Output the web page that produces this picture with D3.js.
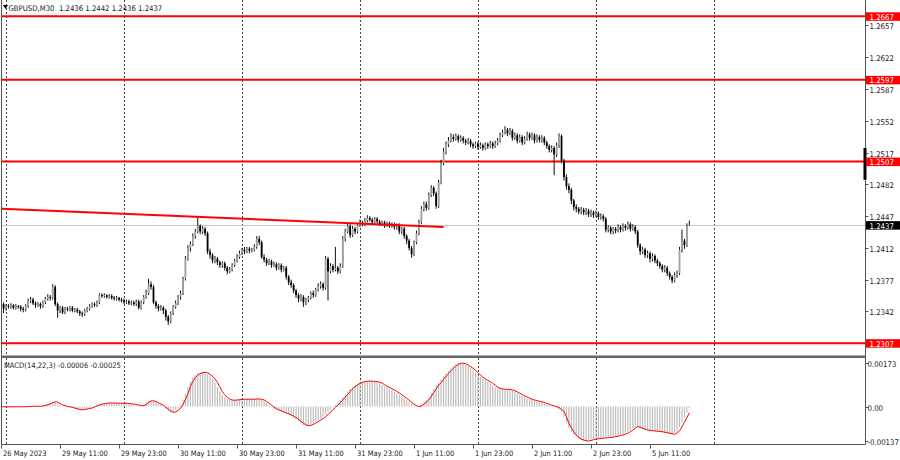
<!DOCTYPE html>
<html><head><meta charset="utf-8">
<script src="https://cdn.jsdelivr.net/npm/d3@7/dist/d3.min.js"></script>
<style>
body{margin:0;background:#fff}
svg{display:block}
text{font-family:"DejaVu Sans Condensed","DejaVu Sans",sans-serif;font-stretch:condensed;white-space:pre}
</style>
</head><body>
<svg id="chart" width="900" height="460"></svg>
<script>
// ---------------- DATA ----------------
const symbolTitle = "GBPUSD,M30";
const lastOHLC = ["1.2436", "1.2442", "1.2436", "1.2437"];
const macdTitle = "MACD(14,22,3) -0.00006 -0.00025";

const open = [1.2352,
1.2350,1.2345,1.2348,1.2347,1.2349,1.2346,1.2348,1.2347,1.2345,1.2344,
1.2348,1.2353,1.2355,1.2351,1.2349,1.2350,1.2348,1.2352,1.2356,1.2358,
1.2357,1.2369,1.2350,1.2343,1.2346,1.2341,1.2345,1.2344,1.2346,1.2343,
1.2344,1.2342,1.2340,1.2339,1.2343,1.2345,1.2348,1.2350,1.2349,1.2352,
1.2360,1.2359,1.2360,1.2358,1.2359,1.2357,1.2356,1.2357,1.2355,1.2354,
1.2352,1.2353,1.2351,1.2352,1.2350,1.2353,1.2346,1.2352,1.2358,1.2362,
1.2372,1.2369,1.2352,1.2348,1.2345,1.2346,1.2343,1.2336,1.2331,1.2340,
1.2347,1.2351,1.2358,1.2362,1.2378,1.2400,1.2412,1.2416,1.2425,1.2430,
1.2436,1.2430,1.2433,1.2428,1.2408,1.2404,1.2398,1.2400,1.2396,1.2393,
1.2395,1.2390,1.2386,1.2388,1.2393,1.2398,1.2402,1.2406,1.2410,1.2408,
1.2411,1.2409,1.2410,1.2413,1.2422,1.2418,1.2402,1.2399,1.2395,1.2397,
1.2393,1.2394,1.2390,1.2393,1.2388,1.2390,1.2380,1.2374,1.2371,1.2365,
1.2360,1.2356,1.2358,1.2352,1.2355,1.2357,1.2362,1.2360,1.2366,1.2370,
1.2372,1.2368,1.2400,1.2386,1.2392,1.2388,1.2390,1.2386,1.2392,1.2422,
1.2430,1.2436,1.2426,1.2433,1.2430,1.2437,1.2440,1.2438,1.2442,1.2445,
1.2443,1.2440,1.2444,1.2441,1.2438,1.2440,1.2437,1.2439,1.2436,1.2438,
1.2435,1.2437,1.2430,1.2433,1.2425,1.2420,1.2412,1.2405,1.2418,1.2428,
1.2440,1.2455,1.2460,1.2456,1.2470,1.2478,1.2472,1.2458,1.2484,1.2505,
1.2518,1.2526,1.2530,1.2534,1.2532,1.2535,1.2531,1.2533,1.2530,1.2528,
1.2530,1.2526,1.2524,1.2527,1.2523,1.2525,1.2522,1.2526,1.2524,1.2527,
1.2524,1.2527,1.2530,1.2536,1.2539,1.2542,1.2538,1.2541,1.2533,1.2536,
1.2530,1.2534,1.2528,1.2532,1.2537,1.2533,1.2536,1.2530,1.2534,1.2531,
1.2533,1.2528,1.2524,1.2520,1.2522,1.2515,1.2525,1.2535,1.2508,1.2490,
1.2480,1.2476,1.2464,1.2457,1.2455,1.2452,1.2454,1.2451,1.2453,1.2449,
1.2451,1.2448,1.2450,1.2446,1.2447,1.2444,1.2432,1.2434,1.2430,1.2433,
1.2431,1.2435,1.2432,1.2436,1.2434,1.2438,1.2433,1.2435,1.2430,1.2415,
1.2408,1.2410,1.2404,1.2406,1.2400,1.2403,1.2398,1.2395,1.2392,1.2388,
1.2390,1.2384,1.2380,1.2376,1.2382,1.2384,1.2410,1.2420,1.2415,1.2436];

const close = [
1.2350,1.2345,1.2348,1.2347,1.2349,1.2346,1.2348,1.2347,1.2345,1.2344,
1.2348,1.2353,1.2355,1.2351,1.2349,1.2350,1.2348,1.2352,1.2356,1.2358,
1.2357,1.2369,1.2350,1.2343,1.2346,1.2341,1.2345,1.2344,1.2346,1.2343,
1.2344,1.2342,1.2340,1.2339,1.2343,1.2345,1.2348,1.2350,1.2349,1.2352,
1.2360,1.2359,1.2360,1.2358,1.2359,1.2357,1.2356,1.2357,1.2355,1.2354,
1.2352,1.2353,1.2351,1.2352,1.2350,1.2353,1.2346,1.2352,1.2358,1.2362,
1.2372,1.2369,1.2352,1.2348,1.2345,1.2346,1.2343,1.2336,1.2331,1.2340,
1.2347,1.2351,1.2358,1.2362,1.2378,1.2400,1.2412,1.2416,1.2425,1.2430,
1.2436,1.2430,1.2433,1.2428,1.2408,1.2404,1.2398,1.2400,1.2396,1.2393,
1.2395,1.2390,1.2386,1.2388,1.2393,1.2398,1.2402,1.2406,1.2410,1.2408,
1.2411,1.2409,1.2410,1.2413,1.2422,1.2418,1.2402,1.2399,1.2395,1.2397,
1.2393,1.2394,1.2390,1.2393,1.2388,1.2390,1.2380,1.2374,1.2371,1.2365,
1.2360,1.2356,1.2358,1.2352,1.2355,1.2357,1.2362,1.2360,1.2366,1.2370,
1.2372,1.2368,1.2400,1.2386,1.2392,1.2388,1.2390,1.2386,1.2392,1.2422,
1.2430,1.2436,1.2426,1.2433,1.2430,1.2437,1.2440,1.2438,1.2442,1.2445,
1.2443,1.2440,1.2444,1.2441,1.2438,1.2440,1.2437,1.2439,1.2436,1.2438,
1.2435,1.2437,1.2430,1.2433,1.2425,1.2420,1.2412,1.2405,1.2418,1.2428,
1.2440,1.2455,1.2460,1.2456,1.2470,1.2478,1.2472,1.2458,1.2484,1.2505,
1.2518,1.2526,1.2530,1.2534,1.2532,1.2535,1.2531,1.2533,1.2530,1.2528,
1.2530,1.2526,1.2524,1.2527,1.2523,1.2525,1.2522,1.2526,1.2524,1.2527,
1.2524,1.2527,1.2530,1.2536,1.2539,1.2542,1.2538,1.2541,1.2533,1.2536,
1.2530,1.2534,1.2528,1.2532,1.2537,1.2533,1.2536,1.2530,1.2534,1.2531,
1.2533,1.2528,1.2524,1.2520,1.2522,1.2515,1.2525,1.2535,1.2508,1.2490,
1.2480,1.2476,1.2464,1.2457,1.2455,1.2452,1.2454,1.2451,1.2453,1.2449,
1.2451,1.2448,1.2450,1.2446,1.2447,1.2444,1.2432,1.2434,1.2430,1.2433,
1.2431,1.2435,1.2432,1.2436,1.2434,1.2438,1.2433,1.2435,1.2430,1.2415,
1.2408,1.2410,1.2404,1.2406,1.2400,1.2403,1.2398,1.2395,1.2392,1.2388,
1.2390,1.2384,1.2380,1.2376,1.2382,1.2384,1.2410,1.2420,1.2415,1.2436,
1.2437];

const high = [
1.2354,1.2352,1.2350,1.2350,1.2351,1.2350,1.2350,1.2349,1.2349,1.2347,
1.2350,1.2356,1.2358,1.2357,1.2353,1.2352,1.2352,1.2354,1.2358,1.2361,
1.2360,1.2372,1.2371,1.2352,1.2348,1.2348,1.2347,1.2347,1.2348,1.2348,
1.2346,1.2346,1.2344,1.2342,1.2345,1.2347,1.2350,1.2352,1.2352,1.2354,
1.2362,1.2362,1.2362,1.2361,1.2361,1.2361,1.2359,1.2359,1.2358,1.2357,
1.2356,1.2355,1.2355,1.2354,1.2354,1.2355,1.2355,1.2354,1.2360,1.2366,
1.2378,1.2375,1.2371,1.2354,1.2350,1.2349,1.2348,1.2345,1.2338,1.2342,
1.2349,1.2354,1.2360,1.2365,1.2380,1.2403,1.2415,1.2419,1.2428,1.2433,
1.2446,1.2438,1.2436,1.2435,1.2430,1.2411,1.2406,1.2403,1.2402,1.2398,
1.2397,1.2397,1.2392,1.2391,1.2395,1.2400,1.2405,1.2409,1.2412,1.2413,
1.2413,1.2413,1.2412,1.2416,1.2425,1.2425,1.2420,1.2405,1.2401,1.2400,
1.2399,1.2397,1.2396,1.2395,1.2395,1.2392,1.2392,1.2382,1.2377,1.2373,
1.2367,1.2362,1.2361,1.2360,1.2357,1.2359,1.2364,1.2365,1.2368,1.2373,
1.2375,1.2374,1.2403,1.2402,1.2395,1.2394,1.2413,1.2392,1.2395,1.2425,
1.2433,1.2439,1.2438,1.2436,1.2435,1.2439,1.2443,1.2442,1.2445,1.2448,
1.2447,1.2445,1.2446,1.2446,1.2443,1.2442,1.2442,1.2441,1.2441,1.2440,
1.2440,1.2439,1.2439,1.2435,1.2435,1.2427,1.2422,1.2414,1.2420,1.2431,
1.2443,1.2458,1.2463,1.2463,1.2473,1.2481,1.2480,1.2474,1.2487,1.2509,
1.2522,1.2529,1.2534,1.2538,1.2537,1.2538,1.2537,1.2536,1.2535,1.2532,
1.2533,1.2532,1.2528,1.2529,1.2529,1.2528,1.2527,1.2528,1.2528,1.2530,
1.2529,1.2530,1.2533,1.2539,1.2542,1.2546,1.2544,1.2544,1.2543,1.2539,
1.2538,1.2537,1.2536,1.2535,1.2540,1.2539,1.2539,1.2538,1.2537,1.2536,
1.2536,1.2535,1.2530,1.2526,1.2525,1.2524,1.2528,1.2538,1.2537,1.2510,
1.2493,1.2483,1.2478,1.2466,1.2460,1.2457,1.2457,1.2456,1.2456,1.2455,
1.2454,1.2453,1.2453,1.2452,1.2450,1.2449,1.2446,1.2437,1.2436,1.2435,
1.2435,1.2438,1.2437,1.2439,1.2438,1.2441,1.2440,1.2438,1.2437,1.2432,
1.2417,1.2413,1.2412,1.2409,1.2408,1.2406,1.2405,1.2400,1.2397,1.2394,
1.2393,1.2392,1.2386,1.2382,1.2385,1.2387,1.2413,1.2432,1.2422,1.2439,
1.2442];

const low = [
1.2347,1.2340,1.2343,1.2345,1.2345,1.2344,1.2344,1.2345,1.2342,1.2341,
1.2342,1.2346,1.2351,1.2349,1.2346,1.2347,1.2345,1.2346,1.2350,1.2354,
1.2354,1.2355,1.2348,1.2335,1.2340,1.2339,1.2339,1.2342,1.2342,1.2341,
1.2341,1.2340,1.2337,1.2336,1.2337,1.2341,1.2343,1.2346,1.2347,1.2347,
1.2350,1.2357,1.2357,1.2356,1.2356,1.2355,1.2354,1.2354,1.2353,1.2352,
1.2350,1.2350,1.2349,1.2349,1.2348,1.2348,1.2344,1.2344,1.2350,1.2356,
1.2360,1.2366,1.2350,1.2345,1.2342,1.2343,1.2339,1.2332,1.2327,1.2329,
1.2338,1.2345,1.2349,1.2355,1.2360,1.2376,1.2398,1.2408,1.2414,1.2422,
1.2428,1.2427,1.2427,1.2425,1.2405,1.2400,1.2395,1.2395,1.2393,1.2390,
1.2390,1.2387,1.2383,1.2384,1.2386,1.2391,1.2396,1.2400,1.2404,1.2405,
1.2406,1.2406,1.2407,1.2408,1.2411,1.2415,1.2400,1.2396,1.2392,1.2393,
1.2390,1.2391,1.2387,1.2388,1.2385,1.2386,1.2377,1.2371,1.2368,1.2362,
1.2357,1.2352,1.2353,1.2347,1.2349,1.2352,1.2355,1.2357,1.2358,1.2364,
1.2367,1.2365,1.2366,1.2354,1.2384,1.2385,1.2386,1.2383,1.2384,1.2390,
1.2419,1.2428,1.2423,1.2424,1.2427,1.2428,1.2435,1.2436,1.2436,1.2440,
1.2441,1.2438,1.2438,1.2439,1.2436,1.2436,1.2434,1.2435,1.2434,1.2434,
1.2432,1.2432,1.2427,1.2427,1.2422,1.2416,1.2409,1.2401,1.2403,1.2416,
1.2426,1.2438,1.2452,1.2453,1.2454,1.2468,1.2469,1.2455,1.2456,1.2482,
1.2503,1.2515,1.2523,1.2528,1.2529,1.2530,1.2528,1.2529,1.2527,1.2525,
1.2526,1.2523,1.2521,1.2522,1.2520,1.2521,1.2519,1.2520,1.2521,1.2522,
1.2521,1.2522,1.2525,1.2528,1.2534,1.2537,1.2535,1.2536,1.2530,1.2531,
1.2527,1.2528,1.2525,1.2526,1.2530,1.2530,1.2531,1.2527,1.2528,1.2528,
1.2528,1.2525,1.2521,1.2517,1.2517,1.2492,1.2512,1.2522,1.2505,1.2486,
1.2476,1.2472,1.2460,1.2453,1.2451,1.2449,1.2449,1.2448,1.2448,1.2446,
1.2446,1.2445,1.2446,1.2443,1.2443,1.2441,1.2429,1.2429,1.2427,1.2427,
1.2428,1.2429,1.2429,1.2430,1.2431,1.2432,1.2430,1.2431,1.2427,1.2412,
1.2404,1.2405,1.2401,1.2401,1.2396,1.2397,1.2395,1.2392,1.2389,1.2385,
1.2385,1.2381,1.2377,1.2373,1.2374,1.2379,1.2382,1.2407,1.2411,1.2413,
1.2436];

const macdMain = [
-0.00001,-0.00001,-0.00001,-0.00001,-0.00001,-0.00001,-0.00001,-0.00001,-0.00001,-0.00001,
0.00000,0.00000,0.00001,0.00001,0.00001,0.00001,0.00002,0.00004,0.00007,0.00011,
0.00015,0.00019,0.00017,0.00012,0.00007,0.00003,0.00000,-0.00001,-0.00003,-0.00006,
-0.00009,-0.00012,-0.00013,-0.00012,-0.00010,-0.00008,-0.00006,-0.00002,0.00002,0.00006,
0.00009,0.00011,0.00013,0.00014,0.00014,0.00014,0.00014,0.00013,0.00013,0.00013,
0.00013,0.00012,0.00011,0.00010,0.00008,0.00006,0.00004,0.00003,0.00008,0.00016,
0.00022,0.00023,0.00020,0.00015,0.00010,0.00006,-0.00002,-0.00010,-0.00018,-0.00023,
-0.00022,-0.00015,-0.00007,0.00008,0.00028,0.00050,0.00079,0.00100,0.00115,0.00125,
0.00131,0.00135,0.00136,0.00134,0.00128,0.00120,0.00110,0.00096,0.00078,0.00059,
0.00047,0.00037,0.00030,0.00026,0.00025,0.00026,0.00027,0.00028,0.00029,0.00029,
0.00029,0.00029,0.00029,0.00030,0.00030,0.00029,0.00026,0.00020,0.00013,0.00006,
-0.00002,-0.00009,-0.00013,-0.00017,-0.00021,-0.00025,-0.00029,-0.00033,-0.00038,-0.00044,
-0.00051,-0.00058,-0.00066,-0.00073,-0.00076,-0.00075,-0.00071,-0.00066,-0.00060,-0.00054,
-0.00048,-0.00040,-0.00032,-0.00022,-0.00013,-0.00004,0.00006,0.00015,0.00026,0.00037,
0.00048,0.00059,0.00070,0.00079,0.00086,0.00092,0.00096,0.00099,0.00101,0.00101,
0.00101,0.00100,0.00099,0.00097,0.00093,0.00087,0.00081,0.00076,0.00071,0.00066,
0.00060,0.00054,0.00047,0.00040,0.00033,0.00025,0.00017,0.00009,0.00003,0.00000,
0.00002,0.00009,0.00017,0.00026,0.00040,0.00055,0.00070,0.00085,0.00095,0.00108,
0.00120,0.00131,0.00142,0.00152,0.00161,0.00168,0.00172,0.00172,0.00170,0.00165,
0.00159,0.00152,0.00144,0.00135,0.00125,0.00117,0.00110,0.00104,0.00099,0.00092,
0.00085,0.00078,0.00072,0.00070,0.00069,0.00068,0.00068,0.00066,0.00063,0.00058,
0.00053,0.00048,0.00043,0.00038,0.00033,0.00029,0.00026,0.00024,0.00021,0.00019,
0.00016,0.00013,0.00009,0.00005,0.00002,0.00000,-0.00004,-0.00012,-0.00020,-0.00040,
-0.00067,-0.00085,-0.00100,-0.00113,-0.00122,-0.00129,-0.00133,-0.00136,-0.00137,-0.00135,
-0.00132,-0.00130,-0.00128,-0.00127,-0.00126,-0.00125,-0.00124,-0.00123,-0.00122,-0.00120,
-0.00118,-0.00115,-0.00113,-0.00110,-0.00106,-0.00100,-0.00093,-0.00086,-0.00080,-0.00082,
-0.00086,-0.00090,-0.00093,-0.00095,-0.00096,-0.00097,-0.00098,-0.00099,-0.00100,-0.00102,
-0.00104,-0.00106,-0.00108,-0.00110,-0.00106,-0.00100,-0.00080,-0.00062,-0.00044,-0.00025,
-0.00006];

const macdSignal = [
-0.00001,-0.00001,-0.00001,-0.00001,-0.00001,-0.00001,-0.00001,-0.00001,-0.00001,-0.00001,
-0.00001,0.00000,0.00000,0.00001,0.00001,0.00001,0.00001,0.00002,0.00004,0.00007,
0.00011,0.00015,0.00019,0.00017,0.00012,0.00007,0.00003,0.00000,-0.00001,-0.00003,
-0.00006,-0.00009,-0.00012,-0.00013,-0.00012,-0.00010,-0.00008,-0.00006,-0.00002,0.00002,
0.00006,0.00009,0.00011,0.00013,0.00014,0.00014,0.00014,0.00014,0.00013,0.00013,
0.00013,0.00013,0.00012,0.00011,0.00010,0.00008,0.00006,0.00004,0.00003,0.00008,
0.00016,0.00022,0.00023,0.00020,0.00015,0.00010,0.00006,-0.00002,-0.00010,-0.00018,
-0.00023,-0.00022,-0.00015,-0.00007,0.00008,0.00028,0.00050,0.00079,0.00100,0.00115,
0.00125,0.00131,0.00135,0.00136,0.00134,0.00128,0.00120,0.00110,0.00096,0.00078,
0.00059,0.00047,0.00037,0.00030,0.00026,0.00025,0.00026,0.00027,0.00028,0.00029,
0.00029,0.00029,0.00029,0.00029,0.00030,0.00030,0.00029,0.00026,0.00020,0.00013,
0.00006,-0.00002,-0.00009,-0.00013,-0.00017,-0.00021,-0.00025,-0.00029,-0.00033,-0.00038,
-0.00044,-0.00051,-0.00058,-0.00066,-0.00073,-0.00076,-0.00075,-0.00071,-0.00066,-0.00060,
-0.00054,-0.00048,-0.00040,-0.00032,-0.00022,-0.00013,-0.00004,0.00006,0.00015,0.00026,
0.00037,0.00048,0.00059,0.00070,0.00079,0.00086,0.00092,0.00096,0.00099,0.00101,
0.00101,0.00101,0.00100,0.00099,0.00097,0.00093,0.00087,0.00081,0.00076,0.00071,
0.00066,0.00060,0.00054,0.00047,0.00040,0.00033,0.00025,0.00017,0.00009,0.00003,
0.00000,0.00002,0.00009,0.00017,0.00026,0.00040,0.00055,0.00070,0.00085,0.00095,
0.00108,0.00120,0.00131,0.00142,0.00152,0.00161,0.00168,0.00172,0.00172,0.00170,
0.00165,0.00159,0.00152,0.00144,0.00135,0.00125,0.00117,0.00110,0.00104,0.00099,
0.00092,0.00085,0.00078,0.00072,0.00070,0.00069,0.00068,0.00068,0.00066,0.00063,
0.00058,0.00053,0.00048,0.00043,0.00038,0.00033,0.00029,0.00026,0.00024,0.00021,
0.00019,0.00016,0.00013,0.00009,0.00005,0.00002,0.00000,-0.00004,-0.00012,-0.00020,
-0.00040,-0.00067,-0.00085,-0.00100,-0.00113,-0.00122,-0.00129,-0.00133,-0.00136,-0.00137,
-0.00135,-0.00132,-0.00130,-0.00128,-0.00127,-0.00126,-0.00125,-0.00124,-0.00123,-0.00122,
-0.00120,-0.00118,-0.00115,-0.00113,-0.00110,-0.00106,-0.00100,-0.00093,-0.00086,-0.00080,
-0.00082,-0.00086,-0.00090,-0.00093,-0.00095,-0.00096,-0.00097,-0.00098,-0.00099,-0.00100,
-0.00102,-0.00104,-0.00106,-0.00108,-0.00110,-0.00106,-0.00096,-0.00081,-0.00062,-0.00044,
-0.00025];

const levelPrices = [1.2667, 1.2597, 1.2507, 1.2307];
const bidPrice = 1.2437;
const priceTicks = [1.2657, 1.2622, 1.2587, 1.2552, 1.2517, 1.2482, 1.2447, 1.2412, 1.2377, 1.2342];
const macdTicks = [0.00173, 0.0, -0.00137];
const macdTickLabels = ["0.00173", "0.00", "-0.00137"];
const timeLabelIdx = [0, 24, 48, 72, 96, 120, 144, 168, 192, 216, 240, 264];
const timeLabels = ["26 May 2023", "29 May 11:00", "29 May 23:00", "30 May 11:00", "30 May 23:00",
  "31 May 11:00", "31 May 23:00", "1 Jun 11:00", "1 Jun 23:00", "2 Jun 11:00", "2 Jun 23:00", "5 Jun 11:00"];
const gridIdx = [2, 50, 98, 146, 194, 242, 290];
const trendIdx = [0, 180];
const trendPrice = [1.2455, 1.2435];

// ---------------- LAYOUT ----------------
const svg = d3.select("#chart");
const L = 1.5, R = 865.5;
const mainTop = 0, mainBot = 355.5, macdTop = 358, macdBot = 444.5;

const x = d3.scaleLinear().domain([0, 290]).range([1.1, 1.1 + 290 * 2.458]);
const yP = d3.scaleLinear().domain([1.2307, 1.2667]).range([343.2, 16.3]);
const yM = d3.scaleLinear().domain([-0.00137, 0.00173]).range([441, 363]);

function fitSize(sample, targetWidth) {
  const t = svg.append("text").attr("font-size", 10).text(sample);
  const w = t.node().getComputedTextLength();
  t.remove();
  return w > 0 ? 10 * targetWidth / w : 8.5;
}

const defs = svg.append("defs");
defs.append("clipPath").attr("id", "clipMain").append("rect")
  .attr("x", L).attr("y", mainTop).attr("width", R - L).attr("height", mainBot - mainTop);
defs.append("clipPath").attr("id", "clipMacd").append("rect")
  .attr("x", L).attr("y", macdTop).attr("width", R - L).attr("height", macdBot - macdTop);

svg.append("rect").attr("width", 900).attr("height", 460).attr("fill", "#fff");

const headerText = symbolTitle + "  " + lastOHLC.join(" ");
const fsHeader = fitSize(headerText, 154);
const fsMacdTitle = fitSize(macdTitle, 117);
const fsTime = fitSize("29 May 11:00", 46);
const fsPrice = fitSize("1.2657", 24.5);

// grid (vertical dashed)
const grid = svg.append("g");
gridIdx.forEach(i => {
  const gx = Math.round(x(i)) + 0.5;
  if (gx < R) {
    grid.append("line").attr("x1", gx).attr("x2", gx).attr("y1", mainTop).attr("y2", mainBot)
      .attr("stroke", "#444").attr("stroke-width", 1).attr("stroke-dasharray", "2,2");
    grid.append("line").attr("x1", gx).attr("x2", gx).attr("y1", macdTop).attr("y2", macdBot)
      .attr("stroke", "#444").attr("stroke-width", 1).attr("stroke-dasharray", "2,2");
  }
});

// main panel
const gm = svg.append("g").attr("clip-path", "url(#clipMain)");

gm.append("line").attr("x1", L).attr("x2", R)
  .attr("y1", Math.round(yP(bidPrice)) + 0.5).attr("y2", Math.round(yP(bidPrice)) + 0.5)
  .attr("stroke", "#c8c8c8").attr("stroke-width", 1);

gm.selectAll(".lvl").data(levelPrices).enter().append("line")
  .attr("x1", L).attr("x2", R).attr("y1", d => yP(d)).attr("y2", d => yP(d))
  .attr("stroke", "#ff0000").attr("stroke-width", 2);

const idx = d3.range(close.length);
const cg = gm.append("g");
cg.selectAll(".wick").data(idx).enter().append("line")
  .attr("x1", i => x(i)).attr("x2", i => x(i))
  .attr("y1", i => yP(high[i])).attr("y2", i => yP(low[i]))
  .attr("stroke", "#111").attr("stroke-width", 1);
cg.selectAll(".body").data(idx).enter().append("rect")
  .attr("x", i => x(i) - 0.9).attr("width", 1.8)
  .attr("y", i => yP(Math.max(open[i], close[i])))
  .attr("height", i => Math.max(1, Math.abs(yP(open[i]) - yP(close[i]))))
  .attr("fill", i => close[i] >= open[i] ? "#a0a0a0" : "#000");

// trendline (extended to the left frame along its own slope)
const trendScale = d3.scaleLinear().domain(trendIdx).range(trendPrice);
gm.append("line")
  .attr("x1", L).attr("y1", yP(trendScale(x.invert(L))))
  .attr("x2", x(trendIdx[1])).attr("y2", yP(trendPrice[1]))
  .attr("stroke", "#ff0000").attr("stroke-width", 2);

// macd panel
const gd = svg.append("g").attr("clip-path", "url(#clipMacd)");
gd.selectAll(".hist").data(idx).enter().append("line")
  .attr("x1", i => x(i)).attr("x2", i => x(i))
  .attr("y1", yM(0)).attr("y2", i => yM(macdMain[i]))
  .attr("stroke", "#bdbdbd").attr("stroke-width", 1.2);
gd.append("path").datum(idx)
  .attr("d", d3.line().x(i => x(i)).y(i => yM(macdSignal[i])))
  .attr("fill", "none").attr("stroke", "#ff0000").attr("stroke-width", 1);

// frames
const fr = svg.append("g").attr("stroke", "#555").attr("fill", "none");
fr.append("line").attr("x1", L).attr("x2", L).attr("y1", 0).attr("y2", macdBot).attr("stroke-width", 1);
fr.append("line").attr("x1", R).attr("x2", R).attr("y1", 0).attr("y2", macdBot).attr("stroke-width", 1);
fr.append("line").attr("x1", L - 0.5).attr("x2", R + 0.5).attr("y1", 356.8).attr("y2", 356.8)
  .attr("stroke", "#666").attr("stroke-width", 2.5);
fr.append("line").attr("x1", L).attr("x2", R).attr("y1", macdBot).attr("y2", macdBot).attr("stroke-width", 1);
svg.append("rect").attr("x", 863.5).attr("y", yP(1.2522)).attr("width", 3)
  .attr("height", yP(1.2487) - yP(1.2522)).attr("fill", "#000");

// header
svg.append("path").attr("d", "M3,5 L8,5 L5.5,9 Z").attr("fill", "#000");
svg.append("text").attr("x", 8.5).attr("y", 10.5).attr("font-size", fsHeader).attr("fill", "#222")
  .text(headerText);
svg.append("text").attr("x", 4).attr("y", 368).attr("font-size", fsMacdTitle).attr("fill", "#222")
  .text(macdTitle);

// price axis
const fmt = d3.format(".4f");
const pa = svg.append("g");
priceTicks.forEach(v => {
  const yy = Math.round(yP(v)) + 0.5;
  pa.append("line").attr("x1", R).attr("x2", R + 3).attr("y1", yy).attr("y2", yy).attr("stroke", "#555");
  pa.append("text").attr("x", 869.5).attr("y", yy + 3.2).attr("font-size", fsPrice).attr("fill", "#222").text(fmt(v));
});
levelPrices.forEach(v => {
  const yy = yP(v);
  pa.append("rect").attr("x", R + 0.5).attr("y", yy - 4).attr("width", 34).attr("height", 8.5).attr("fill", "#ff0000");
  pa.append("text").attr("x", 869.5).attr("y", yy + 3.4).attr("font-size", fsPrice).attr("fill", "#fff").text(fmt(v));
});
{
  const yy = yP(bidPrice);
  pa.append("rect").attr("x", R + 0.5).attr("y", yy - 4).attr("width", 34).attr("height", 8.5).attr("fill", "#000");
  pa.append("text").attr("x", 869.5).attr("y", yy + 3.4).attr("font-size", fsPrice).attr("fill", "#fff").text(fmt(bidPrice));
}
macdTicks.forEach((v, k) => {
  const yy = Math.round(yM(v)) + 0.5;
  pa.append("line").attr("x1", R).attr("x2", R + 3).attr("y1", yy).attr("y2", yy).attr("stroke", "#555");
  pa.append("text").attr("x", 867.5).attr("y", yy + 3.5).attr("font-size", fsPrice).attr("fill", "#222").text(macdTickLabels[k]);
});

// time axis
const ta = svg.append("g");
timeLabelIdx.forEach((i, k) => {
  const tx = Math.round(x(i)) + 0.5;
  ta.append("line").attr("x1", tx).attr("x2", tx).attr("y1", macdBot).attr("y2", macdBot + 4).attr("stroke", "#555");
  ta.append("text").attr("x", tx + 1.5).attr("y", 455.5).attr("font-size", fsTime).attr("fill", "#222").text(timeLabels[k]);
});
</script>
</body></html>
